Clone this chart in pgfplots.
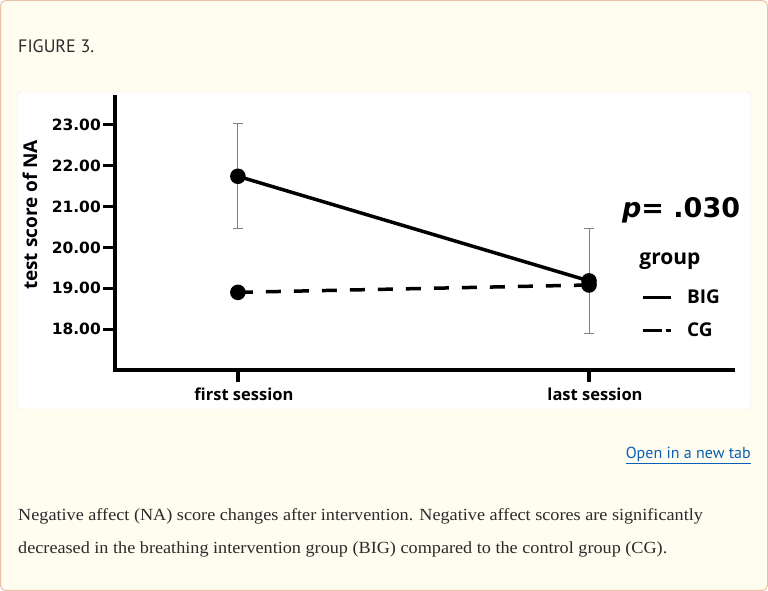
\documentclass[border=0pt]{standalone}
\usepackage{pgfplots}
\pgfplotsset{compat=1.18}
\usepackage{fontspec}
\setmainfont{Liberation Serif}
\newfontfamily\capfont[FakeStretch=1.07]{Liberation Serif}
\newfontfamily\ptsans{PT Sans}
\newfontfamily\opensans{Open Sans}
\newfontfamily\dejavu{DejaVu Sans}
\definecolor{pagebg}{HTML}{FFFDF0}
\definecolor{pageborder}{HTML}{EBC0A8}
\definecolor{boxborder}{HTML}{ECEBE2}
\definecolor{linkblue}{HTML}{0B5FB5}
\definecolor{captext}{HTML}{2B2B2B}

\begin{document}
\begin{tikzpicture}
\fill[pagebg, draw=pageborder, line width=1pt, rounded corners=5pt] (0.5pt,0.5pt) rectangle (767.5pt,590.5pt);
\useasboundingbox (0pt,0pt) rectangle (768pt,591pt);
\filldraw[fill=white, draw=boxborder, rounded corners=4pt] (17pt,182pt) rectangle (751pt,499pt);

\node[anchor=base west, inner sep=0pt, text=captext, font=\ptsans\fontsize{18}{20}\selectfont] at (18pt,538pt) {FIGURE 3.};
\node[anchor=base east, inner sep=0pt, text=linkblue, font=\ptsans\fontsize{16}{20}\selectfont] at (751pt,132pt) {\underline{Open in a new tab}};
\node[anchor=base west, inner sep=0pt, text=captext, font=\capfont\fontsize{17}{20}\selectfont] at (18pt,70pt) {Negative affect (NA) score changes after intervention. Negative affect scores are significantly};
\node[anchor=base west, inner sep=0pt, text=captext, font=\capfont\fontsize{17}{20}\selectfont] at (18pt,37pt) {decreased in the breathing intervention group (BIG) compared to the control group (CG).};

\begin{axis}[
    at={(115pt,221pt)}, anchor=south west,
    scale only axis, width=618pt, height=273pt,
    xmin=0.65, xmax=2.41, ymin=17, ymax=23.68,
    axis lines*=left,
    axis line style={line width=3.5pt, black, line cap=rect},
    xtick align=outside, ytick align=outside,
    major tick length=12pt,
    tick style={black, line width=3pt},
    xtick style={black, line width=3.5pt},
    xtick={1,2}, xticklabels={first session, last session},
    ytick={18,19,20,21,22,23},
    yticklabels={18.00,19.00,20.00,21.00,22.00,23.00},
    x tick label style={font=\opensans\bfseries\fontsize{16.5}{18}\selectfont, inner sep=2pt, yshift=-4pt, xshift=6pt},
    y tick label style={font=\dejavu\bfseries\fontsize{15.5}{17}\selectfont, inner sep=2pt},
    ylabel={test score of NA},
    ylabel style={at={(axis description cs:-0.1375,0.568)}, anchor=center, font=\opensans\bfseries\fontsize{19}{20}\selectfont},
    clip=false,
    legend image code/.code={\draw[#1] (0pt,0pt) -- (28pt,0pt);},
    legend cell align=left,
    legend style={draw=none, fill=none, inner sep=0pt, row sep=16pt,
        font=\opensans\bfseries\fontsize{19}{20}\selectfont,
        nodes={inner sep=1pt},
        /tikz/every odd column/.append style={column sep=14pt},
        at={(axis description cs:0.851,0.205)}, anchor=west},
]
\addplot[black, line width=3.5pt, mark=*, mark size=6pt, mark options={solid}, forget plot,
    error bars/.cd, y dir=both, y explicit,
    error bar style={line width=1pt, draw=gray},
    error mark options={rotate=90, mark size=5pt, line width=1pt, draw=gray}]
    coordinates {(1,21.74) +- (0,1.28) (2,19.18) +- (0,1.28)};
\addplot[black, line width=3.5pt, dash pattern=on 15pt off 13pt, mark=*, mark size=6pt, mark options={solid}, forget plot]
    coordinates {(1,18.90) (2,19.08)};
\addlegendimage{black, line width=3pt}
\addlegendentry{BIG}
\addlegendimage{black, line width=3pt, dash pattern=on 19pt off 4pt}
\addlegendentry{CG}
\node[anchor=base, font=\dejavu\bfseries\fontsize{27}{30}\selectfont, inner sep=0pt] at (axis description cs:0.916,0.5604) {\textit{p}= .030};
\node[anchor=base, font=\opensans\bfseries\fontsize{21}{24}\selectfont, inner sep=0pt] at (axis description cs:0.898,0.388) {group};
\end{axis}
\end{tikzpicture}
\end{document}
